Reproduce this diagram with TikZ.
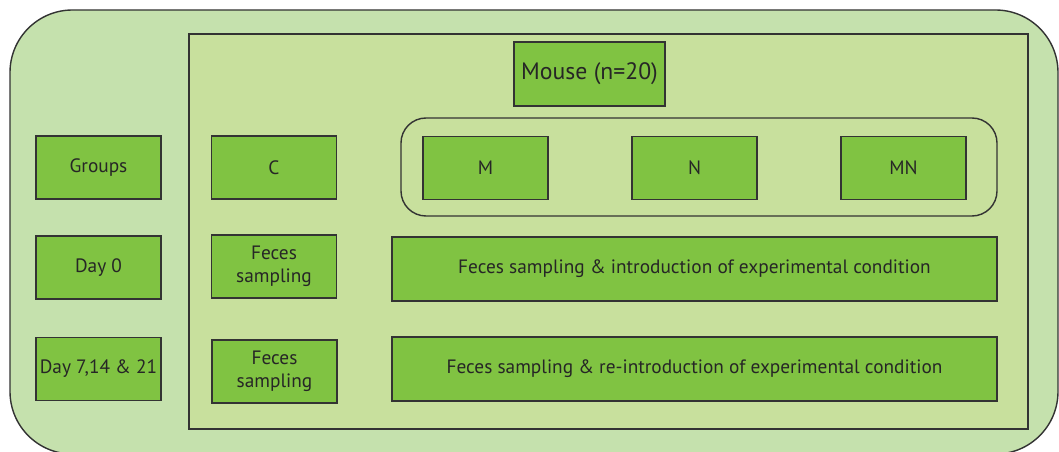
\documentclass[tikz,border=0pt]{standalone}
\usepackage{fontspec}
\setmainfont{PT Sans}
\usepackage{tikz}
\usetikzlibrary{positioning}
\definecolor{outerbg}{HTML}{C5E1AD}
\definecolor{innerbg}{HTML}{C8E09D}
\definecolor{boxgreen}{HTML}{80C342}
\definecolor{edge}{HTML}{333333}
\tikzset{
	cell/.style={draw=edge, line width=0.8pt, fill=boxgreen, text=black!85,
		minimum width=2.5cm, minimum height=1.26cm, inner sep=1pt,
		align=center, font=\fontsize{11}{13}\selectfont},
	wide/.style={cell, minimum width=12.1cm, minimum height=1.28cm}
}

\begin{document}
\begin{tikzpicture}[x=0.02cm, y=-0.02cm]
		\useasboundingbox (0,0) rectangle (1059,452);
		\draw[draw=edge, line width=0.8pt, fill=outerbg, rounded corners=1.25cm] (10,10) rectangle (1058,454);
		\draw[draw=edge, line width=0.8pt, fill=innerbg] (189,34) rectangle (1028,429);
		\draw[draw=edge, line width=0.8pt, rounded corners=0.5cm] (401,118) rectangle (997,216);
		\node[cell, minimum width=3.02cm, minimum height=1.28cm,
			font=\fontsize{13.5}{15}\selectfont] (mouse) at (589.5,74) {Mouse (n=20)};
		\node[cell] (groups) at (98.5,167.5) {Groups};
		\node[cell] (c) at (274,167.5) {C};
		\node[cell] (m) at (485.5,168) {M};
		\node[cell] (n) at (694.5,168) {N};
		\node[cell] (mn) at (903.5,168) {MN};
		\node[cell] (day0) at (98.5,267.5) {Day 0};
		\node[cell] (feces0) at (274,266.5) {Feces\\sampling};
		\node[wide] (intro) at (694.5,269) {Feces sampling \& introduction of experimental condition};
		\node[cell] (day7) at (98.5,369) {Day 7,14 \& 21};
		\node[cell] (feces7) at (274.5,371.5) {Feces\\sampling};
		\node[wide] (reintro) at (694.5,369) {Feces sampling \& re-introduction of experimental condition};
\end{tikzpicture}
\end{document}
